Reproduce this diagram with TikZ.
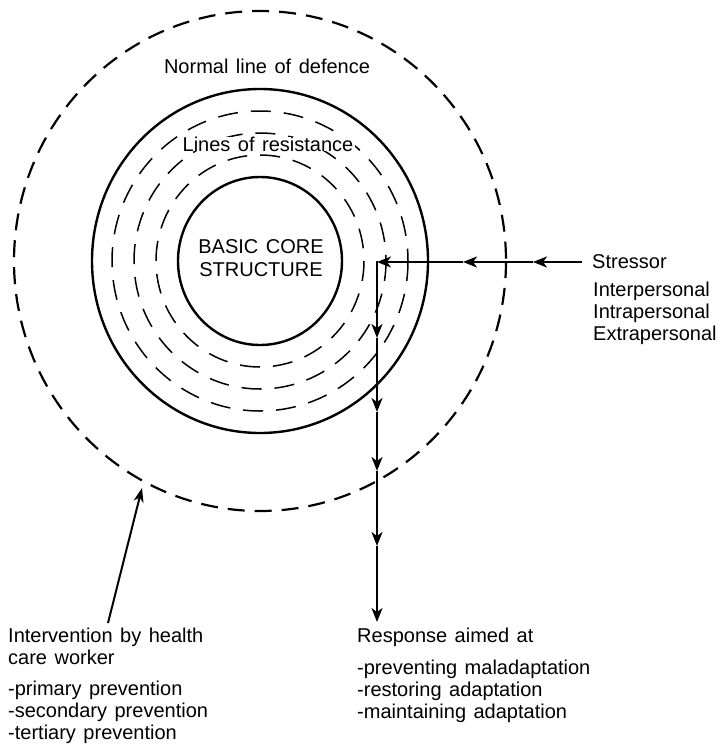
\documentclass[tikz,border=0pt]{standalone}
\usepackage{fontspec}
\setmainfont{Liberation Sans}[WordSpace=1.35]
\usetikzlibrary{arrows.meta}
\begin{document}
\begin{tikzpicture}[x=1pt,y=-1pt,
  lbl/.style={font=\fontsize{20}{22}\selectfont, inner sep=0pt},
  solidring/.style={line width=2.4pt},
  defence/.style={line width=2.2pt, dash pattern=on 17pt off 10pt},
  resist/.style={line width=1.5pt, dash pattern=on 20pt off 13pt},
  flow/.style={line width=2.3pt, -{Stealth[length=14pt,width=11pt,inset=4pt]}},
  pointer/.style={line width=2pt, -{Stealth[length=14pt,width=10pt,inset=4pt]}}]
\useasboundingbox (0,0) rectangle (720,753);

% concentric lines around the core
\coordinate (c) at (260,261);
\draw[defence] (c) ellipse [x radius=246, y radius=250];
\draw[solidring] (c) ellipse [x radius=168, y radius=172];
\foreach \rx/\ry in {104/106, 126/128, 148/150}
  \draw[resist] (c) ellipse [x radius=\rx, y radius=\ry];
\draw[solidring] (c) ellipse [x radius=82, y radius=84];

% ring labels
\node[lbl, anchor=base] (nld) at (267,73) {Normal line of defence};
\node[lbl, anchor=base, fill=white, inner xsep=2pt] (lor) at (268,151) {Lines of resistance};
\node[lbl, anchor=base] (core1) at (261,253) {BASIC CORE};
\node[lbl, anchor=base] (core2) at (261,276) {STRUCTURE};

% stressor block
\node[lbl, anchor=base west] (str) at (592,268) {Stressor};
\node[lbl, anchor=base west] (str1) at (593,296) {Interpersonal};
\node[lbl, anchor=base west] (str2) at (593,318) {Intrapersonal};
\node[lbl, anchor=base west] (str3) at (593,340) {Extrapersonal};

% response block
\node[lbl, anchor=base west] (rsp) at (357,642) {Response aimed at};
\node[lbl, anchor=base west] (rsp1) at (357,674) {-preventing maladaptation};
\node[lbl, anchor=base west] (rsp2) at (357,696) {-restoring adaptation};
\node[lbl, anchor=base west] (rsp3) at (357,718) {-maintaining adaptation};

% intervention block
\node[lbl, anchor=base west] (itv) at (8,642) {Intervention by health};
\node[lbl, anchor=base west] (itv0) at (8,664) {care worker};
\node[lbl, anchor=base west] (itv1) at (8,695) {-primary prevention};
\node[lbl, anchor=base west] (itv2) at (8,717) {-secondary prevention};
\node[lbl, anchor=base west] (itv3) at (8,739) {-tertiary prevention};

% stressor path into the system and the response path out
\coordinate (s0) at (582,262);
\coordinate (h1) at (533,262);
\coordinate (h2) at (463,262);
\coordinate (k)  at (377,262);
\coordinate (v1) at (377,338);
\coordinate (v2) at (377,412);
\coordinate (v3) at (377,471);
\coordinate (v4) at (377,546);
\coordinate (v5) at (377,622);
\draw[flow] (s0) -- (h1);
\draw[flow] (h1) -- (h2);
\draw[flow] (h2) -- (k);
\draw[flow, line cap=rect] (k) -- (v1);
\draw[flow] (v1) -- (v2);
\draw[flow] (v2) -- (v3);
\draw[flow] (v3) -- (v4);
\draw[flow] (v4) -- (v5);

% intervention pointer
\coordinate (ia) at (108,623);
\coordinate (ib) at (142,488);
\draw[pointer] (ia) -- (ib);
\end{tikzpicture}
\end{document}
